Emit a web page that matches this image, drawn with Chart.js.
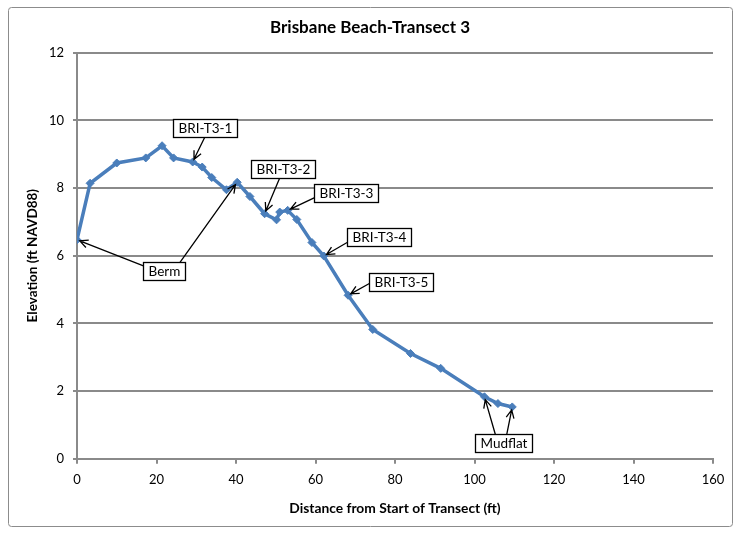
<!DOCTYPE html>
<html>
<head>
<meta charset="utf-8">
<script src="https://cdn.jsdelivr.net/npm/chart.js@4.4.1/dist/chart.umd.min.js"></script>
<style>
  html, body { margin: 0; padding: 0; background: #fff; }
</style>
</head>
<body>
<canvas id="transectChart" width="740" height="534"></canvas>
<script>
// survey profile: distance along transect (ft) vs elevation (ft NAVD88)
const distance = [0, 3.3, 10.0, 17.3, 21.4, 24.3, 29.1, 31.5, 33.9, 37.6, 40.3, 43.5, 47.2, 50.2, 51.0, 53.0, 55.3, 59.1, 62.1, 68.2, 74.4, 83.9, 91.5, 102.5, 105.9, 109.5];
const elevation = [6.47, 8.14, 8.74, 8.89, 9.25, 8.89, 8.77, 8.62, 8.31, 7.95, 8.17, 7.75, 7.24, 7.06, 7.29, 7.34, 7.07, 6.39, 5.99, 4.83, 3.82, 3.11, 2.67, 1.83, 1.63, 1.53];

const xTicks = [0, 20, 40, 60, 80, 100, 120, 140, 160];
const yTicks = [0, 2, 4, 6, 8, 10, 12];

// callout boxes: label, box centre in data units, arrows (start on box as fraction of w/h, point index)
const callouts = [
  { text: 'BRI-T3-1', at: [32.2, 9.78], arrows: [{ from: [0, 0.5], to: 6 }] },
  { text: 'BRI-T3-2', at: [51.8, 8.56], arrows: [{ from: [-0.05, 0.5], to: 12 }] },
  { text: 'BRI-T3-3', at: [67.7, 7.84], arrows: [{ from: [-0.5, 0.25], to: 15 }] },
  { text: 'BRI-T3-4', at: [76.0, 6.55], arrows: [{ from: [-0.5, 0.3], to: 18 }] },
  { text: 'BRI-T3-5', at: [81.6, 5.23], arrows: [{ from: [-0.5, 0.1], to: 19 }] },
  { text: 'Berm', at: [22.0, 5.54], arrows: [{ from: [-0.5, -0.3], to: 0 }, { from: [0.37, -0.5], to: 10 }] },
  { text: 'Mudflat', at: [107.4, 0.45], arrows: [{ from: [-0.15, -0.5], to: 23 }, { from: [0.05, -0.5], to: 25 }] }
];

const FONT = 'Lato, "Open Sans", sans-serif';
const GRID = '#8a8a8a';

function arrow(ctx, sx, sy, tx, ty) {
  const ang = Math.atan2(ty - sy, tx - sx);
  // stop just short of the marker
  const ex = tx - Math.cos(ang) * 3, ey = ty - Math.sin(ang) * 3;
  ctx.beginPath();
  ctx.moveTo(sx, sy);
  ctx.lineTo(ex, ey);
  const hl = 9, spread = 0.45;
  ctx.moveTo(ex - hl * Math.cos(ang - spread), ey - hl * Math.sin(ang - spread));
  ctx.lineTo(ex, ey);
  ctx.lineTo(ex - hl * Math.cos(ang + spread), ey - hl * Math.sin(ang + spread));
  ctx.stroke();
}

const calloutPlugin = {
  id: 'callouts',
  afterDatasetsDraw(chart) {
    const { ctx, scales: { x, y } } = chart;
    ctx.save();
    ctx.font = '13.5px ' + FONT;
    ctx.strokeStyle = '#000';
    ctx.lineWidth = 1.3;
    callouts.forEach(c => {
      const cx = x.getPixelForValue(c.at[0]);
      const cy = y.getPixelForValue(c.at[1]);
      const w = Math.round(ctx.measureText(c.text).width + 10);
      const h = 18;
      c.arrows.forEach(a => {
        arrow(ctx, cx + a.from[0] * w, cy + a.from[1] * h,
          x.getPixelForValue(distance[a.to]), y.getPixelForValue(elevation[a.to]));
      });
      const left = Math.round(cx - w / 2) + 0.5, top = Math.round(cy - h / 2) + 0.5;
      ctx.fillStyle = '#fff';
      ctx.fillRect(left, top, w, h);
      ctx.strokeRect(left, top, w, h);
      ctx.fillStyle = '#000';
      ctx.textAlign = 'center';
      ctx.textBaseline = 'middle';
      ctx.fillText(c.text, left + w / 2, top + h / 2 + 0.5);
    });
    ctx.restore();
  }
};

// outer frame round the whole chart
const framePlugin = {
  id: 'frame',
  beforeDraw(chart) {
    const ctx = chart.ctx;
    ctx.save();
    ctx.fillStyle = '#fff';
    ctx.fillRect(0, 0, chart.width, chart.height);
    ctx.strokeStyle = '#8c8c8c';
    ctx.lineWidth = 1;
    ctx.beginPath();
    ctx.roundRect(8.5, 7.5, 724, 519, 3);
    ctx.stroke();
    ctx.restore();
  }
};

const ctx = document.getElementById('transectChart');
new Chart(ctx, {
  type: 'line',
  data: {
    datasets: [{
      label: 'Elevation',
      data: distance.map((d, i) => ({ x: d, y: elevation[i] })),
      borderColor: '#4a7ebb',
      backgroundColor: '#4a7ebb',
      borderWidth: 3.5,
      pointStyle: 'rectRot',
      pointRadius: 4,
      pointBorderWidth: 1,
      tension: 0
    }]
  },
  options: {
    responsive: false,
    animation: false,
    devicePixelRatio: 1,
    layout: { padding: { left: 10, right: 10, top: 10, bottom: 10 } },
    plugins: {
      legend: { display: false },
      tooltip: { enabled: false },
      title: {
        display: true,
        text: 'Brisbane Beach-Transect 3',
        color: '#000',
        font: { family: FONT, size: 17, weight: 'bold' },
        padding: { top: 7.8, bottom: 14.5 }
      }
    },
    scales: {
      x: {
        type: 'linear',
        min: 0,
        max: 160,
        afterBuildTicks: s => { s.ticks = xTicks.map(v => ({ value: v })); },
        afterFit: s => { s.height = 534 - 10 - 458.7; },
        grid: { drawOnChartArea: false, drawTicks: true, tickLength: 5, color: GRID, lineWidth: 2 },
        border: { color: GRID, width: 2 },
        ticks: { color: '#000', font: { family: FONT, size: 13 }, padding: 8, maxRotation: 0 },
        title: {
          display: true,
          text: 'Distance from Start of Transect (ft)',
          color: '#000',
          font: { family: FONT, size: 13.8, weight: 'bold' },
          padding: { top: 0, bottom: 7 }
        }
      },
      y: {
        min: 0,
        max: 12,
        afterBuildTicks: s => { s.ticks = yTicks.map(v => ({ value: v })); },
        afterFit: s => { s.width = 77 - 10; },
        grid: { color: GRID, lineWidth: 2, drawTicks: true, tickLength: 4 },
        border: { color: GRID, width: 2 },
        ticks: { color: '#000', font: { family: FONT, size: 13 }, padding: 9 },
        title: {
          display: true,
          text: 'Elevation (ft NAVD88)',
          color: '#000',
          font: { family: FONT, size: 13.5, weight: 'bold' },
          padding: { top: 15, bottom: 0 }
        }
      },
      // empty right-hand spacer so the plot ends short of the frame
      spacer: {
        position: 'right',
        min: 0,
        max: 12,
        afterFit: s => { s.width = 17; },
        grid: { display: false },
        border: { display: false },
        ticks: { display: false }
      }
    }
  },
  plugins: [framePlugin, calloutPlugin]
});
</script>
</body>
</html>
